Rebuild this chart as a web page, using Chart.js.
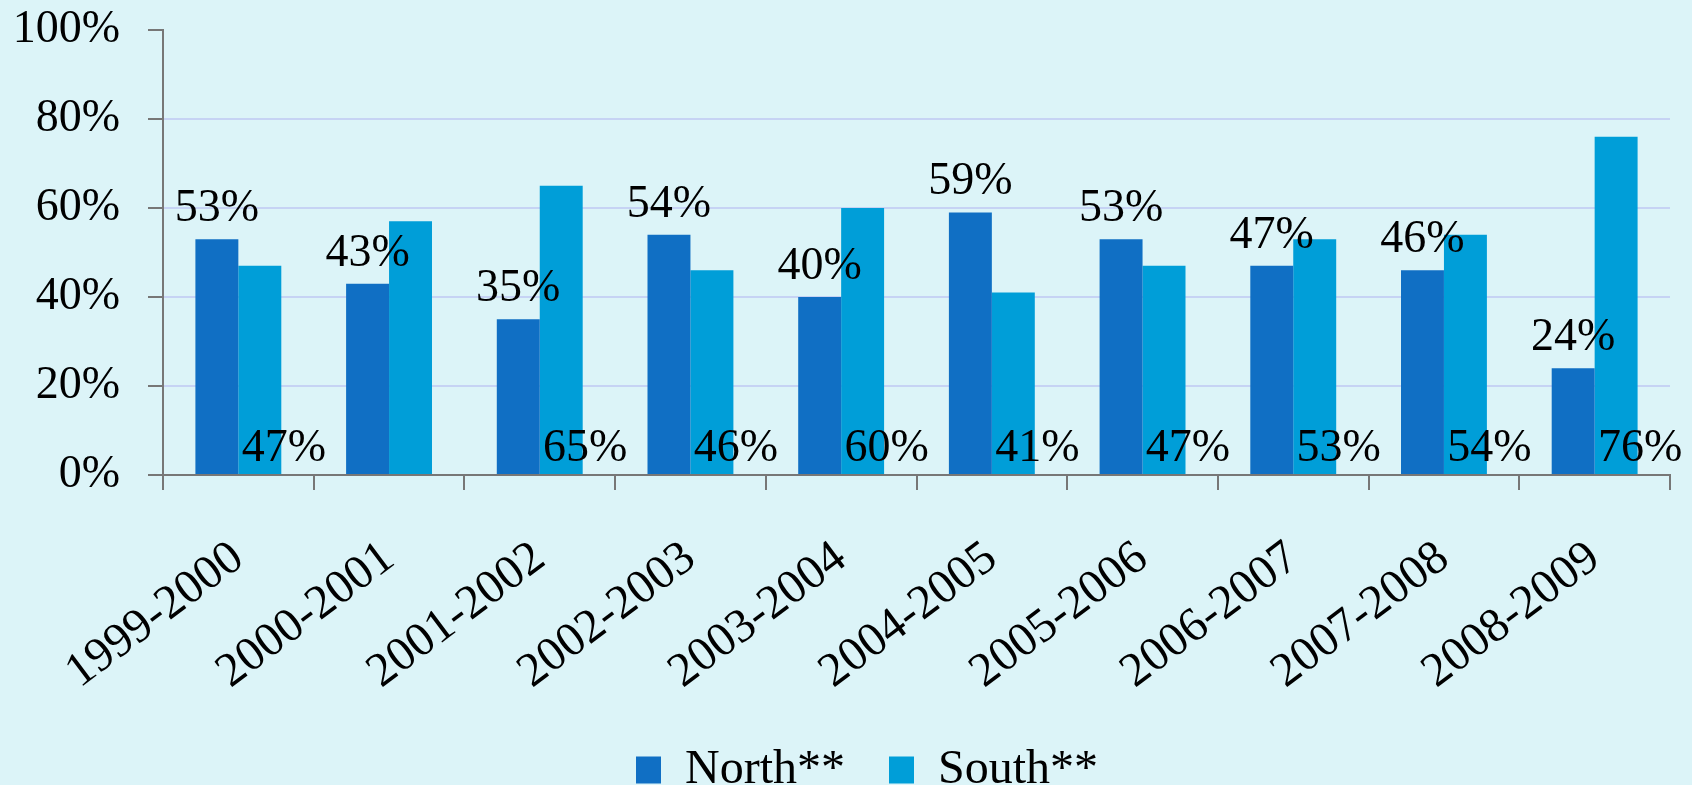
<!DOCTYPE html>
<html>
<head>
<meta charset="utf-8">
<script src="https://cdn.jsdelivr.net/npm/chart.js@4/dist/chart.umd.min.js"></script>
<style>
  html, body { margin:0; padding:0; background:#dcf4f8; }
  #wrap { width:1692px; height:785px; position:relative; }
</style>
</head>
<body>
<div id="wrap"><canvas id="chart"></canvas></div>
<script>
// Data
const years = ['1999-2000','2000-2001','2001-2002','2002-2003','2003-2004','2004-2005','2005-2006','2006-2007','2007-2008','2008-2009'];
const north = [53, 43, 35, 54, 40, 59, 53, 47, 46, 24];
const south = [47, 57, 65, 46, 60, 41, 47, 53, 54, 76];
// labels shown in the picture (South 2000-2001 has none)
const northLabels = ['53%','43%','35%','54%','40%','59%','53%','47%','46%','24%'];
const southLabels = ['47%',null,'65%','46%','60%','41%','47%','53%','54%','76%'];
const yTicks = [0, 20, 40, 60, 80, 100];

const FONT = "'Liberation Serif', 'DejaVu Serif', serif";

// draw value labels: North above the bar, South at the base, a bit to the right
const valueLabels = {
  id:'valueLabels',
  afterDatasetsDraw(chart){
    const ctx = chart.ctx;
    const base = chart.scales.y.getPixelForValue(0);
    ctx.save();
    ctx.font = '46px ' + FONT;
    ctx.fillStyle = '#000';
    ctx.textAlign = 'center';
    ctx.textBaseline = 'alphabetic';
    chart.getDatasetMeta(0).data.forEach((bar,i)=>{
      if(!northLabels[i]) return;
      ctx.fillText(northLabels[i], bar.x, bar.y - 18);
    });
    chart.getDatasetMeta(1).data.forEach((bar,i)=>{
      if(!southLabels[i]) return;
      ctx.fillText(southLabels[i], bar.x + 24, base - 14);
    });
    ctx.restore();
  }
};

// the legend in the original sits a little right of centre
const legendShift = {
  id:'legendShift',
  afterLayout(chart){
    if(chart.legend){ chart.legend.left += 64; }
  }
};

new Chart(document.getElementById('chart'), {
  type:'bar',
  data:{
    labels: years,
    datasets:[
      {label:'North**', data:north, backgroundColor:'#106fc4', categoryPercentage:0.57, barPercentage:1.0},
      {label:'South**', data:south, backgroundColor:'#009ed8', categoryPercentage:0.57, barPercentage:1.0}
    ]
  },
  options:{
    responsive:true,
    maintainAspectRatio:false,
    animation:false,
    layout:{padding:{top:30, right:22, left:0, bottom:-19}},
    plugins:{
      tooltip:{enabled:false},
      legend:{
        position:'bottom',
        labels:{
          font:{family:FONT, size:48},
          color:'#000',
          boxWidth:25,
          boxHeight:27,
          padding:44
        }
      }
    },
    scales:{
      x:{
        afterFit(scale){ scale.height = 227; },
        grid:{drawOnChartArea:false, drawTicks:true, tickLength:15, color:'#777', lineWidth:2},
        border:{color:'#777', width:2},
        ticks:{
          font:{family:FONT, size:48},
          color:'#000',
          minRotation:37, maxRotation:37,
          padding:40
        }
      },
      y:{
        min:0, max:100,
        afterBuildTicks(axis){ axis.ticks = yTicks.map(v=>({value:v})); },
        afterFit(scale){ scale.width = 163; scale.paddingTop = 0; scale.paddingBottom = 0; },
        grid:{
          color:(c)=> (c.tick && (c.tick.value===100 || c.tick.value===0)) ? 'rgba(0,0,0,0)' : '#c6d3f4',
          lineWidth:2,
          tickLength:15,
          tickColor:'#777'
        },
        border:{color:'#777', width:2},
        ticks:{
          font:{family:FONT, size:46},
          color:'#000',
          padding:28,
          callback:(v)=> v + '%'
        }
      }
    }
  },
  plugins:[valueLabels, legendShift]
});
</script>
</body>
</html>
